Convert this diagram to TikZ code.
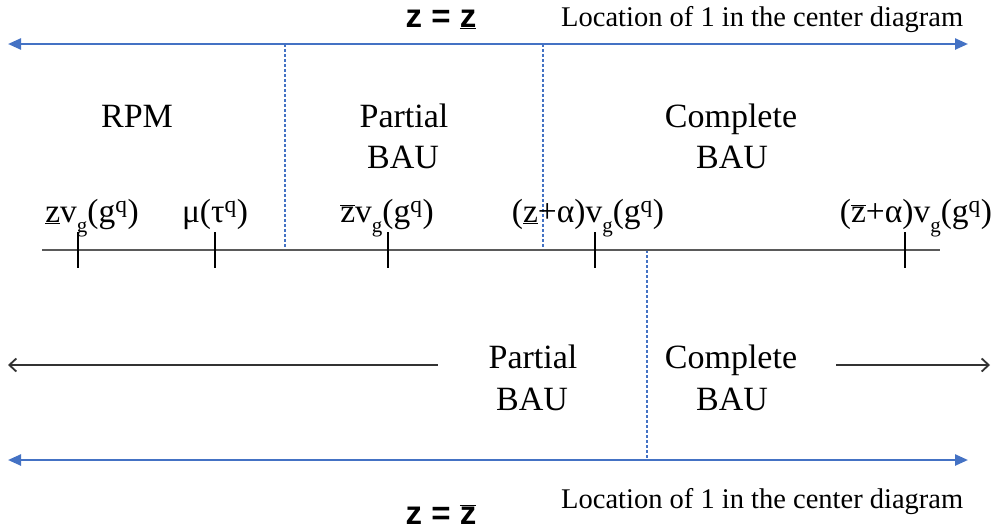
\documentclass[tikz,border=0pt]{standalone}
\usepackage{fontspec}
\setmainfont{Liberation Serif}
\newfontfamily\zfont{Liberation Sans}
\usetikzlibrary{arrows.meta}
\definecolor{axblue}{RGB}{68,114,196}
\definecolor{axgray}{RGB}{90,90,90}
\newcommand{\uz}{$\underline{\hbox{z}}$}
\newcommand{\oz}{$\overline{\hbox{z}}$}
\newcommand{\vgg}{v\raisebox{-0.32em}{\fontsize{21}{22}\selectfont g}(g\textsuperscript{q})}
\begin{document}
\begin{tikzpicture}[x=1pt,y=-1pt,
  bluearrow/.style={draw=axblue,line width=2.4pt,{Triangle[length=13pt,width=11pt]}-{Triangle[length=13pt,width=11pt]}},
  bluedash/.style={draw=axblue,line width=1.1pt,dash pattern=on 3pt off 2pt},
  axisline/.style={draw=axgray,line width=1.6pt},
  tickline/.style={draw=black,line width=1.1pt},
  blackarrow/.style={draw=black!80,line width=1.8pt},
  biglabel/.style={font=\fontsize{34}{40}\selectfont,inner sep=0pt,anchor=base},
  axlabel/.style={font=\fontsize{33.5}{38}\selectfont,inner sep=0pt,anchor=base},
  loclabel/.style={font=\fontsize{28.5}{34}\selectfont,inner sep=0pt,anchor=base west},
  zlabel/.style={font=\zfont\bfseries\fontsize{33}{38}\selectfont,inner sep=0pt,anchor=base}
]
\useasboundingbox (0,0) rectangle (996,531);
% top arrow and text
\coordinate (tl) at (8,44);
\coordinate (tr) at (968,44);
\draw[bluearrow] (tl) -- (tr);
\node[zlabel] (ztop) at (441,27) {z = \uz};
\node[loclabel] (loctop) at (561,26) {Location of 1 in the center diagram};
% dashed verticals
\coordinate (d1t) at (285,44);
\coordinate (d1b) at (285,250);
\coordinate (d2t) at (543,44);
\coordinate (d2b) at (543,250);
\coordinate (d3t) at (647,250);
\coordinate (d3b) at (647,460);
\draw[bluedash] (d1t) -- (d1b);
\draw[bluedash] (d2t) -- (d2b);
\draw[bluedash] (d3t) -- (d3b);
% region labels
\node[biglabel] (rpm) at (137,127) {RPM};
\node[biglabel] (pA) at (404,127) {Partial};
\node[biglabel] (pB) at (403,168) {BAU};
\node[biglabel] (cA) at (731,127) {Complete};
\node[biglabel] (cB) at (732,168) {BAU};
% axis
\coordinate (axl) at (42,250);
\coordinate (axr) at (940,250);
\draw[axisline] (axl) -- (axr);
\foreach \n/\x in {t1/78,t2/215,t3/388,t4/595,t5/905}{
  \coordinate (\n a) at (\x,232);
  \coordinate (\n b) at (\x,268);
  \draw[tickline] (\n a) -- (\n b);
}
\node[axlabel] (l1) at (92,222) {\uz\vgg};
\node[axlabel] (l2) at (215,222) {μ(τ\textsuperscript{q})};
\node[axlabel] (l3) at (387,222) {\oz\vgg};
\node[axlabel] (l4) at (588,222) {(\uz+α)\vgg};
\node[axlabel] (l5) at (916,222) {(\oz+α)\vgg};
% lower row
\coordinate (la) at (8,365);
\coordinate (lb) at (438,365);
\coordinate (ra) at (836,365);
\coordinate (rb) at (990,365);
\draw[blackarrow,{Straight Barb[length=7pt,width=13pt]}-] (la) -- (lb);
\draw[blackarrow,-{Straight Barb[length=7pt,width=13pt]}] (ra) -- (rb);
\node[biglabel] (p2A) at (533,368) {Partial};
\node[biglabel] (p2B) at (532,410) {BAU};
\node[biglabel] (c2A) at (731,368) {Complete};
\node[biglabel] (c2B) at (732,410) {BAU};
% bottom arrow and text
\coordinate (bl) at (8,460);
\coordinate (br) at (968,460);
\draw[bluearrow] (bl) -- (br);
\node[loclabel] (locbot) at (561,508) {Location of 1 in the center diagram};
\node[zlabel] (zbot) at (441,524) {z = \oz};
\end{tikzpicture}
\end{document}
